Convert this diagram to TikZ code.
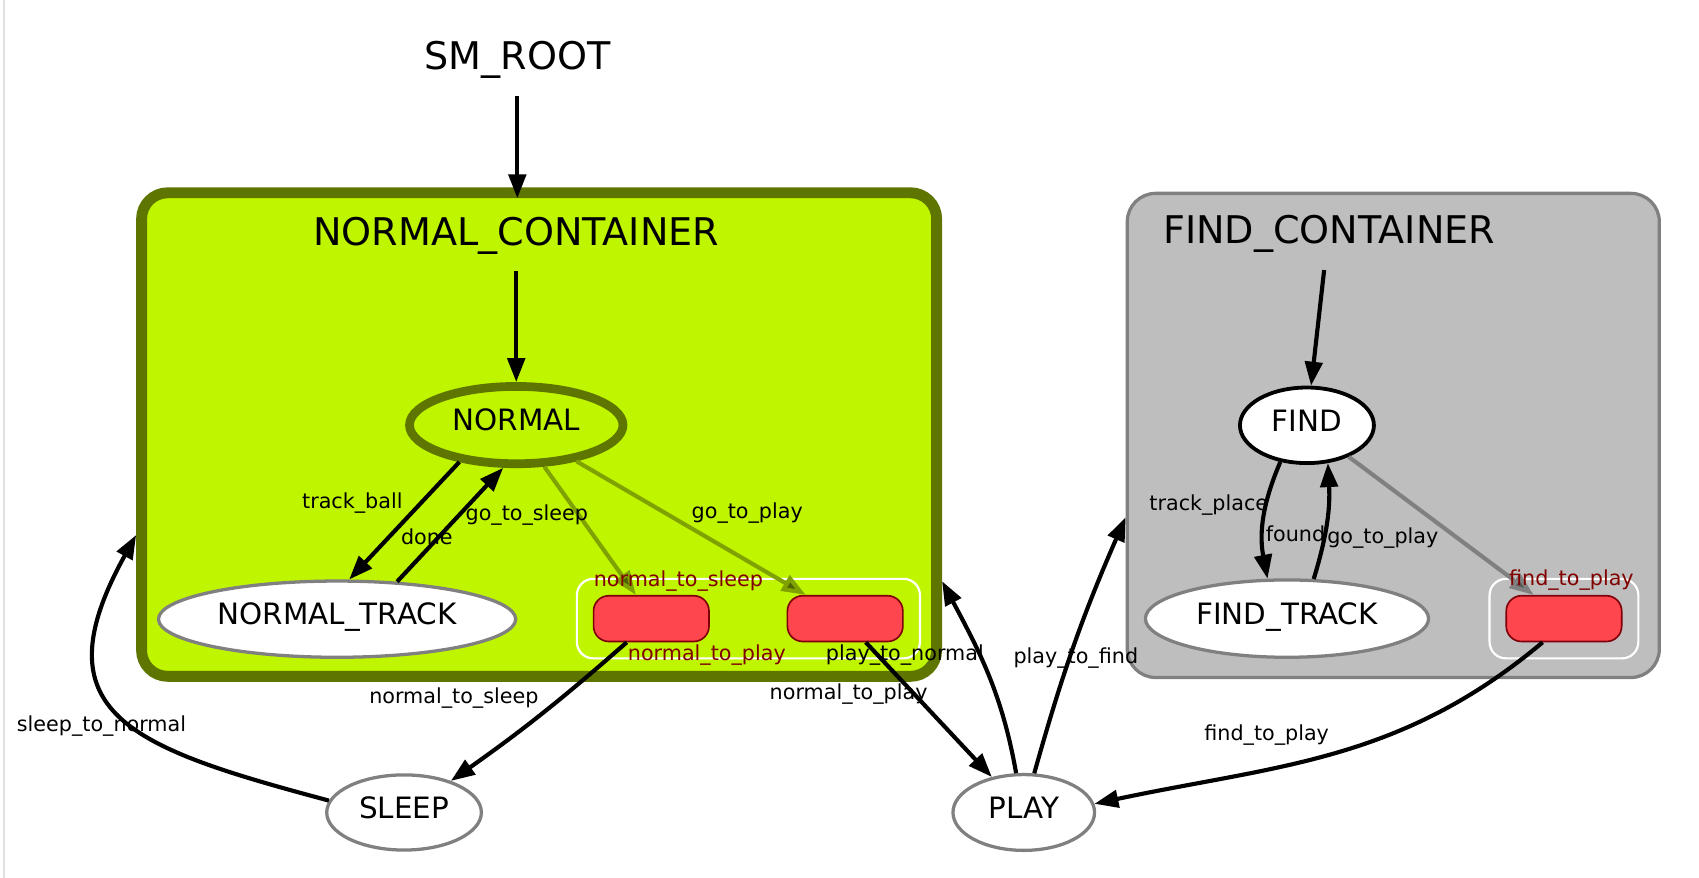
\documentclass[tikz,border=0pt]{standalone}
\usepackage{fontspec}
\setmainfont{DejaVu Sans}
\usetikzlibrary{shapes.geometric,arrows.meta}
\definecolor{limefill}{RGB}{192,245,0}
\definecolor{oliveline}{RGB}{94,117,0}
\definecolor{oliveedge}{RGB}{128,162,0}
\definecolor{olivetip}{RGB}{78,100,0}
\definecolor{boxred}{RGB}{254,70,79}
\definecolor{boxline}{RGB}{128,0,10}
\definecolor{outred}{RGB}{128,0,0}
\definecolor{stategray}{RGB}{128,128,128}
\definecolor{tipgray}{RGB}{90,90,90}
\definecolor{findfill}{RGB}{190,190,190}

\begin{document}
\begin{tikzpicture}[x=1pt, y=1pt,
	container/.style={rectangle, inner sep=0pt},
	title/.style={font=\fontsize{35}{40}\selectfont, anchor=base, inner sep=15.5pt},
	state/.style={ellipse, draw=stategray, fill=white, line width=3pt, inner sep=0pt,
		text height=19.7pt, text depth=9pt, font=\fontsize{27}{32}\selectfont},
	outbox/.style={rectangle, rounded corners=14pt, draw=boxline, fill=boxred, line width=1.5pt,
		minimum width=106pt, minimum height=42pt},
	outgroup/.style={rectangle, rounded corners=15pt, draw=white, line width=2pt, minimum height=73pt},
	lbl/.style={font=\fontsize{19}{22}\selectfont, anchor=base, inner sep=0pt},
	trans/.style={line width=3.8pt, -{Triangle[length=22pt,width=16pt]}},
	otrans/.style={oliveedge, line width=3.8pt, -{Triangle[length=22pt,width=16pt,fill=olivetip]}},
	gtrans/.style={stategray, line width=3.8pt, -{Triangle[length=22pt,width=16pt,fill=tipgray]}}]
	\useasboundingbox (0,0) rectangle (1560,-806);
	\draw[black!12, line width=2pt] (3.7,0) -- (3.7,-806);

	% containers
	\node[container, rounded corners=24pt, draw=oliveline, fill=limefill, line width=10pt,
		minimum width=730pt, minimum height=444pt] (normalc) at (495,-399) {};
	\node[container, rounded corners=26pt, draw=stategray, fill=findfill, line width=3pt,
		minimum width=488.5pt, minimum height=444.5pt] (findc) at (1279.3,-399.8) {};
	\node[title] (smroot) at (475,-64) {SM\_ROOT};
	\node[title] (ntitle) at (474,-225) {NORMAL\_CONTAINER};
	\node[title] (ftitle) at (1220.4,-224) {FIND\_CONTAINER};

	% outcomes
	\node[outgroup, minimum width=315pt] (ngroup) at (687.2,-568) {};
	\node[outgroup, minimum width=136.6pt] (fgroup) at (1436,-568) {};
	\node[outbox] (n2s) at (598,-568) {};
	\node[outbox] (n2p) at (776,-568) {};
	\node[outbox] (f2p) at (1436,-568) {};

	% states
	\node[state, draw=oliveline, fill=limefill, line width=8pt, minimum width=196pt, minimum height=71pt] (normal) at (474,-390.3) {NORMAL};
	\node[state, minimum width=328pt, minimum height=70pt] (ntrack) at (309.5,-568.5) {NORMAL\_TRACK};
	\node[state, minimum width=142pt, minimum height=69pt] (sleep) at (371,-746) {SLEEP};
	\node[state, minimum width=130pt, minimum height=69.6pt] (play) at (940,-746) {PLAY};
	\node[state, draw=black, line width=3.5pt, minimum width=123pt, minimum height=69.4pt] (find) at (1200,-390.5) {FIND};
	\node[state, minimum width=260pt, minimum height=71pt] (ftrack) at (1181.7,-568) {FIND\_TRACK};

	% transitions
	\draw[trans] (smroot.south) -- ([yshift=-10pt]smroot.south |- normalc.north);
	\draw[trans] (ntitle.south) -- (normal.north);
	\draw[trans] ([xshift=-4.6pt]ftitle.south) -- (find.84);
	\draw[trans] (normal.213) -- (ntrack.73);
	\draw[trans] (ntrack.32) -- (normal.253);
	\draw[otrans] (normal.304) -- (n2s.123);
	\draw[otrans] (normal.329) -- (n2p.149);
	\draw[trans] (n2s.224) to[bend left=3] (sleep.34);
	\draw[trans] (n2p.311) -- (play.132);
	\draw[trans] (play.101) to[out=100,in=-62] (normalc.340);
	\draw[trans] (play.75) to[bend left=4] (findc.197);
	\draw[trans] (sleep.171) to[out=165,in=241,looseness=1.6] (normalc.194);
	\draw[trans] (f2p.228) to[out=220,in=12] (play.7);
	\draw[trans] (find.234) to[bend right=17] (ftrack.116);
	\draw[trans] (ftrack.56) to[bend right=10] (find.299);
	\draw[gtrans] (find.323) -- (f2p.142);

	% labels
	\foreach \t/\x/\y [count=\i] in {track\_ball/323.5/-466.6, done/391.9/-499.8,
		go\_to\_sleep/483.7/-477.5, go\_to\_play/686.1/-475.7, play\_to\_normal/830.8/-606,
		normal\_to\_sleep/416.7/-645.8, sleep\_to\_normal/93.2/-671.9, normal\_to\_play/779.2/-642,
		play\_to\_find/987.8/-609, find\_to\_play/1163/-680, track\_place/1109.9/-468.3,
		found/1189.5/-497.4, go\_to\_play/1269.7/-498.8}{
	\node[lbl] (lab\i) at (\x,\y) {\t};}
	\foreach \t/\x/\y [count=\i] in {normal\_to\_sleep/622.9/-538.7, normal\_to\_play/649/-606,
		find\_to\_play/1442.8/-538}{
	\node[lbl, text=outred] (out\i) at (\x,\y) {\t};}
\end{tikzpicture}
\end{document}
